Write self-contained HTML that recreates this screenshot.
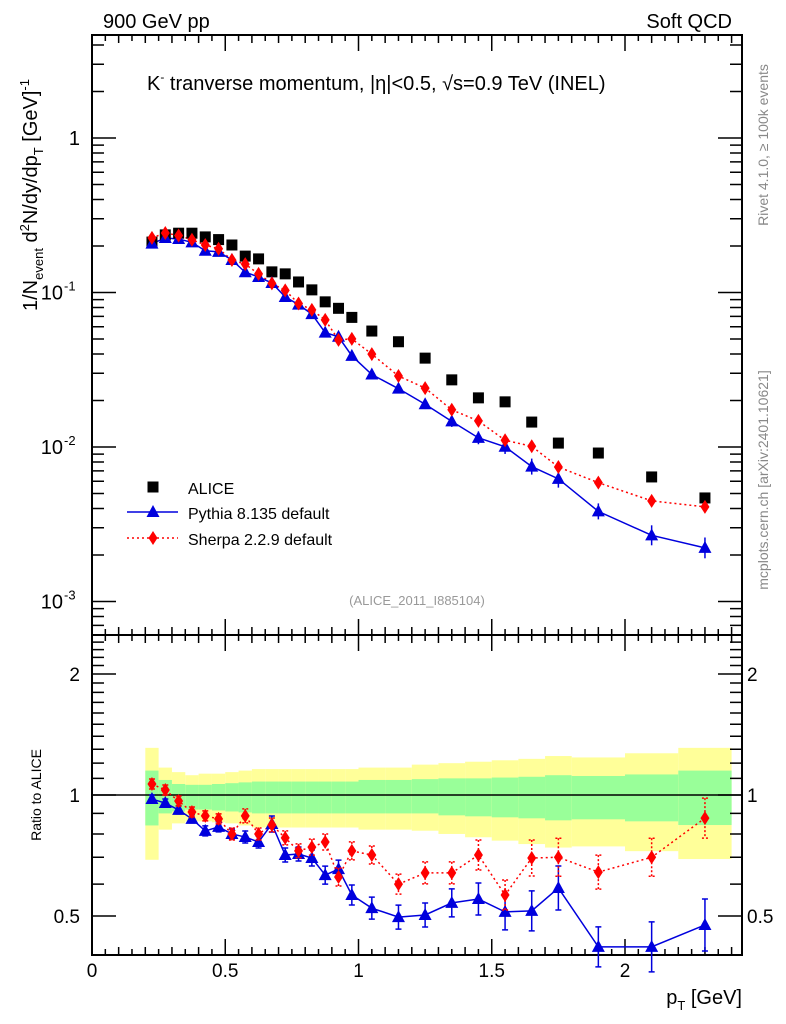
<!DOCTYPE html>
<html><head><meta charset="utf-8"><style>
body{margin:0;background:#fff}
svg{display:block;font-family:"Liberation Sans",sans-serif}
</style></head><body>
<svg id="c" width="786" height="1024" viewBox="0 0 786 1024" xmlns="http://www.w3.org/2000/svg">
<text x="103" y="28" font-size="20">900 GeV pp</text>
<text x="732" y="28" font-size="20" text-anchor="end">Soft QCD</text>
<text x="147" y="90" font-size="20">K<tspan font-size="12" dy="-9">-</tspan><tspan dy="9"> tranverse momentum, |η|&lt;0.5, √s=0.9 TeV (INEL)</tspan></text>
<text transform="translate(37,195) rotate(-90)" font-size="20" text-anchor="middle">1/N<tspan font-size="13" dy="6">event</tspan><tspan dy="-6"> d</tspan><tspan font-size="13" dy="-8">2</tspan><tspan dy="8">N/dy/dp</tspan><tspan font-size="13" dy="6">T</tspan><tspan dy="-6"> [GeV]</tspan><tspan font-size="13" dy="-8">-1</tspan></text>
<text transform="translate(41,795) rotate(-90)" font-size="14" text-anchor="middle">Ratio to ALICE</text>
<text x="742" y="1004" font-size="20" text-anchor="end">p<tspan font-size="13" dy="6">T</tspan><tspan dy="-6"> [GeV]</tspan></text>
<text transform="translate(768,145) rotate(-90)" font-size="14" fill="#888" text-anchor="middle">Rivet 4.1.0, ≥ 100k events</text>
<text transform="translate(768,480) rotate(-90)" font-size="14" fill="#888" text-anchor="middle">mcplots.cern.ch [arXiv:2401.10621]</text>
<text x="417" y="605" font-size="13" fill="#999" text-anchor="middle">(ALICE_2011_I885104)</text>
<g id="g"></g>
</svg>
<script>
const xCenters=[0.225,0.275,0.325,0.375,0.425,0.475,0.525,0.575,0.625,0.675,0.725,0.775,0.825,0.875,0.925,0.975,1.05,1.15,1.25,1.35,1.45,1.55,1.65,1.75,1.9,2.1,2.3];
const xLo=[0.2,0.25,0.3,0.35,0.4,0.45,0.5,0.55,0.6,0.65,0.7,0.75,0.8,0.85,0.9,0.95,1.0,1.1,1.2,1.3,1.4,1.5,1.6,1.7,1.8,2.0,2.2];
const xHi=[0.25,0.3,0.35,0.4,0.45,0.5,0.55,0.6,0.65,0.7,0.75,0.8,0.85,0.9,0.95,1.0,1.1,1.2,1.3,1.4,1.5,1.6,1.7,1.8,2.0,2.2,2.4];
const alice=[0.212,0.236,0.242,0.242,0.229,0.22,0.203,0.172,0.165,0.136,0.132,0.117,0.104,0.087,0.079,0.069,0.0563,0.048,0.0376,0.0272,0.0208,0.0196,0.0145,0.0106,0.00914,0.0064,0.00468];
const pythiaRatio=[0.977,0.955,0.918,0.872,0.814,0.833,0.80,0.786,0.764,0.847,0.709,0.713,0.697,0.632,0.654,0.564,0.523,0.497,0.503,0.539,0.551,0.512,0.515,0.587,0.419,0.419,0.475];
const pythiaErrPx=[4,4,4,4,5,5,5,6,6,8,7,7,8,9,9,10,11,12,12,14,16,18,20,22,20,25,26];
const sherpaRatio=[1.065,1.029,0.966,0.907,0.887,0.872,0.80,0.887,0.80,0.842,0.782,0.726,0.742,0.764,0.625,0.726,0.709,0.60,0.64,0.64,0.709,0.564,0.697,0.70,0.643,0.70,0.876];
const sherpaErrPx=[5,5,5,5,5,5,6,7,6,7,7,7,8,8,9,9,9,10,11,11,15,15,18,19,17,19,20];
const yellowHi=[1.31,1.17,1.14,1.12,1.13,1.13,1.14,1.15,1.16,1.16,1.16,1.16,1.16,1.16,1.16,1.16,1.17,1.17,1.19,1.20,1.21,1.22,1.23,1.25,1.24,1.27,1.31];
const greenHi=[1.15,1.09,1.065,1.06,1.06,1.065,1.07,1.075,1.08,1.08,1.08,1.08,1.08,1.08,1.08,1.08,1.09,1.09,1.095,1.10,1.10,1.105,1.11,1.12,1.115,1.125,1.15];
const greenLo=[0.84,0.90,0.91,0.92,0.92,0.915,0.91,0.905,0.90,0.90,0.90,0.90,0.90,0.90,0.90,0.90,0.90,0.90,0.90,0.89,0.885,0.88,0.875,0.865,0.87,0.86,0.842];
const yellowLo=[0.69,0.82,0.85,0.86,0.86,0.855,0.85,0.84,0.83,0.83,0.83,0.83,0.83,0.83,0.83,0.83,0.82,0.82,0.815,0.80,0.785,0.77,0.755,0.74,0.745,0.725,0.693];
const xTickLabels=["0","0.5","1","1.5","2"];
const mainTickLabels=["1","10","10","10"];
const mainTickExp=["","-1","-2","-3"];
const ratioTickLabels=["0.5","1","2"];

const L=92,R=742,T=35,M=635,B=955;
const X=v=>L+v*266.5;
const Y=v=>138-154.5*Math.log10(v);
const RY=v=>795-402*Math.log10(v);
const NS="http://www.w3.org/2000/svg";
const g=document.getElementById('g');
function mk(tag,at,parent){const e=document.createElementNS(NS,tag);for(const k in at)e.setAttribute(k,at[k]);(parent||g).appendChild(e);return e;}

for(let i=0;i<xCenters.length;i++){
  const x1=X(xLo[i]),w=X(xHi[i])-x1;
  let e=mk('rect',{x:x1,y:RY(yellowHi[i]),width:w,height:RY(yellowLo[i])-RY(yellowHi[i]),fill:'#ffff99'});
  
  
  e=mk('rect',{x:x1,y:RY(greenHi[i]),width:w,height:RY(greenLo[i])-RY(greenHi[i]),fill:'#99ff99'});
  
  
}
let ref=mk('line',{x1:L,x2:R,y1:RY(1),y2:RY(1),stroke:'#000','stroke-width':1.5});



let f=mk('rect',{x:L,y:T,width:R-L,height:M-T,fill:'none',stroke:'#000','stroke-width':2});


f=mk('rect',{x:L,y:M,width:R-L,height:B-M,fill:'none',stroke:'#000','stroke-width':2});



const tk=[];
for(let k=0;k<=48;k++){const v=k*0.05;const x=X(v);if(x>R)break;
  const len=(k%10==0)?16:(k%2==0?8:6);
  [[T,1],[M,-1],[M,1],[B,-1]].forEach(([y0,d])=>tk.push(`M${x},${y0}v${d*len}`));
}
for(let e=-4;e<=0;e++)for(let m=1;m<=9;m++){const v=m*Math.pow(10,e);const y=Y(v);if(y<T||y>M)continue;
  const len=m==1?24:12;tk.push(`M${L},${y}h${len}`);tk.push(`M${R},${y}h${-len}`);}
[0.4,0.5,0.6,0.7,0.8,0.9,1,1.1,1.2,1.3,1.4,1.5,1.6,1.7,1.8,1.9,2,2.1,2.2,2.3,2.4].forEach(v=>{const y=RY(v);if(y<M||y>B)return;
  const len=(v==0.5||v==1||v==2)?24:12;tk.push(`M${L},${y}h${len}`);tk.push(`M${R},${y}h${-len}`);});
let tp=mk('path',{d:tk.join(''),stroke:'#000','stroke-width':1.5,fill:'none'});



xTickLabels.forEach((s,i)=>{const t=mk('text',{x:X(i*0.5),y:977,'font-size':19,'text-anchor':'middle'});t.textContent=s;
  
  });
mainTickLabels.forEach((s,i)=>{
  const y=Y(Math.pow(10,-i))+7;
  const hasExp=!!mainTickExp[i];
  const t=mk('text',{x:hasExp?63:80,y:y,'font-size':20,'text-anchor':'end'});
  t.textContent=s;
  
  
  if(hasExp){const ex=mk('text',{x:64,y:y-9,'font-size':13});ex.textContent=mainTickExp[i];
    
    }
});
[0.5,1,2].forEach((v,i)=>{
  let t=mk('text',{x:80,y:RY(v)+7,'font-size':19,'text-anchor':'end'});t.textContent=ratioTickLabels[i];
  
  
  t=mk('text',{x:747,y:RY(v)+7,'font-size':19,'text-anchor':'start'});t.textContent=ratioTickLabels[i];
  
  });

function tri(x,y,col,name){const e=mk('path',{d:`M${x},${y-7}L${x+6.5},${y+5}L${x-6.5},${y+5}Z`,fill:col});
  
  }
function dia(x,y,col,name){const e=mk('path',{d:`M${x},${y-7}L${x+4.5},${y}L${x},${y+7}L${x-4.5},${y}Z`,fill:col});
  
  }
function sq(x,y,name){const e=mk('rect',{x:x-5.5,y:y-5.5,width:11,height:11,fill:'#000'});
  
  }

const pyMain=alice.map((a,i)=>a*pythiaRatio[i]);
const shMain=alice.map((a,i)=>a*sherpaRatio[i]);
let p=mk('path',{d:'M'+xCenters.map((x,i)=>X(x)+','+Y(shMain[i])).join('L'),fill:'none',stroke:'#f00','stroke-width':1.5,'stroke-dasharray':'2,3'});


p=mk('path',{d:'M'+xCenters.map((x,i)=>X(x)+','+Y(pyMain[i])).join('L'),fill:'none',stroke:'#00d','stroke-width':1.5});


xCenters.forEach((x,i)=>{sq(X(x),Y(alice[i]),'alice-point');});
xCenters.forEach((x,i)=>{
  const y=Y(pyMain[i]);const eb=mk('path',{d:`M${X(x)},${y-pythiaErrPx[i]*0.4}V${y+pythiaErrPx[i]*0.4}`,stroke:'#00d','stroke-width':1.5});
  
  
  tri(X(x),y,'#00d','pythia-point');});
xCenters.forEach((x,i)=>{dia(X(x),Y(shMain[i]),'#f00','sherpa-point');});

p=mk('path',{d:'M'+xCenters.map((x,i)=>X(x)+','+RY(sherpaRatio[i])).join('L'),fill:'none',stroke:'#f00','stroke-width':1.5,'stroke-dasharray':'2,3'});


p=mk('path',{d:'M'+xCenters.map((x,i)=>X(x)+','+RY(pythiaRatio[i])).join('L'),fill:'none',stroke:'#00d','stroke-width':1.5});


xCenters.forEach((x,i)=>{
  const cx=X(x),y=RY(pythiaRatio[i]),e=pythiaErrPx[i];
  const eb=mk('path',{d:`M${cx},${y-e}V${y+e}M${cx-3},${y-e}h6M${cx-3},${y+e}h6`,stroke:'#00d','stroke-width':1.5,fill:'none'});
  
  
  tri(cx,y,'#00d','pythia-ratio-point');
  const ys=RY(sherpaRatio[i]),es=sherpaErrPx[i];
  const ebs=mk('path',{d:`M${cx},${ys-es}V${ys+es}M${cx-3},${ys-es}h6M${cx-3},${ys+es}h6`,stroke:'#f00','stroke-width':1.5,fill:'none','stroke-dasharray':'2,2'});
  
  
  dia(cx,ys,'#f00','sherpa-ratio-point');
});

sq(153,487,'legend-alice-marker');
let lt=mk('text',{x:188,y:494,'font-size':16});lt.textContent='ALICE';


let ll=mk('path',{d:'M127,512H178',stroke:'#00d','stroke-width':1.5});


tri(153,512,'#00d','legend-pythia-marker');
lt=mk('text',{x:188,y:519,'font-size':16});lt.textContent='Pythia 8.135 default';


ll=mk('path',{d:'M127,538H178',stroke:'#f00','stroke-width':1.5,'stroke-dasharray':'2,3'});


dia(153,538,'#f00','legend-sherpa-marker');
lt=mk('text',{x:188,y:545,'font-size':16});lt.textContent='Sherpa 2.2.9 default';


</script>
</body></html>
